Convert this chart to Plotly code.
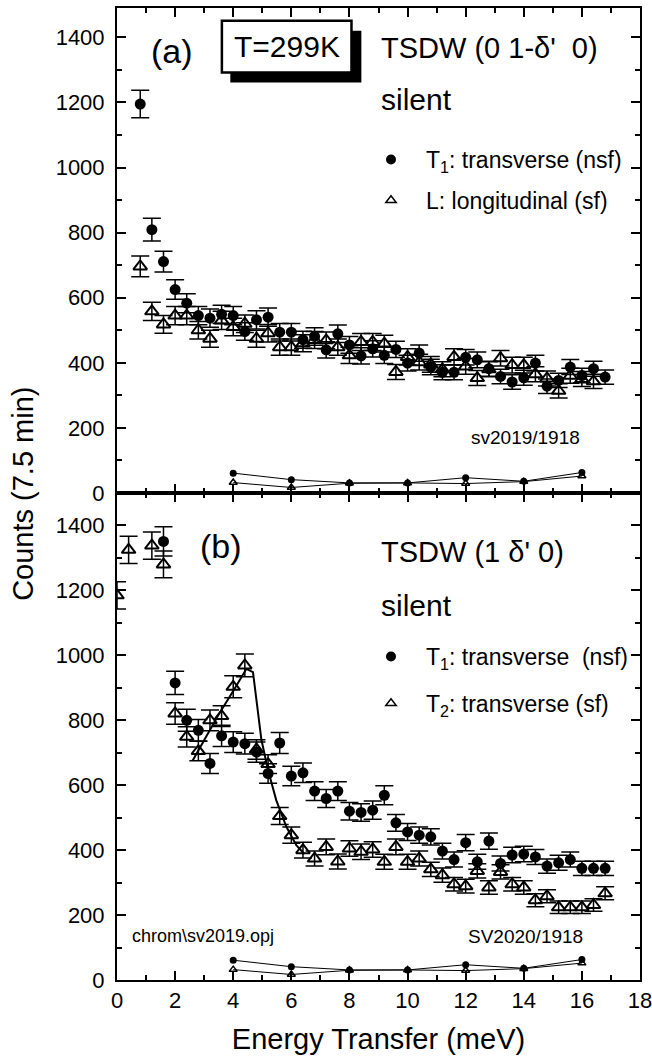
import plotly.graph_objects as go

# ---------------- data ----------------
# Panel (a)  TSDW (0 1-d' 0), T=299K
xa_T1 = [0.8, 1.2, 1.6, 2.0, 2.4, 2.8, 3.2, 3.6, 4.0, 4.4, 4.8, 5.2, 5.6, 6.0, 6.4, 6.8,
         7.2, 7.6, 8.0, 8.4, 8.8, 9.2, 9.6, 10.0, 10.4, 10.8, 11.2, 11.6, 12.0, 12.4,
         12.8, 13.2, 13.6, 14.0, 14.4, 14.8, 15.2, 15.6, 16.0, 16.4, 16.8]
ya_T1 = [1195, 809, 711, 625, 583, 545, 537, 549, 545, 496, 532, 540, 494, 494, 471, 481,
         440, 489, 455, 421, 443, 423, 441, 399, 430, 387, 371, 371, 417, 409,
         382, 358, 341, 354, 399, 328, 346, 387, 361, 382, 356]
ea_T1 = [42, 35, 32, 30, 29, 28, 28, 28, 28, 27, 28, 28, 27, 27, 26, 27,
         25, 27, 26, 25, 25, 25, 25, 24, 25, 24, 23, 23, 24, 24,
         23, 22, 22, 23, 24, 22, 22, 23, 22, 23, 22]

xa_L = [0.8, 1.2, 1.6, 2.0, 2.4, 2.8, 3.2, 3.6, 4.0, 4.4, 4.8, 5.2, 5.6, 6.0, 6.4, 6.8,
        7.2, 7.6, 8.0, 8.4, 8.8, 9.2, 9.6, 10.0, 10.4, 10.8, 11.2, 11.6, 12.0, 12.4,
        12.8, 13.2, 13.6, 14.0, 14.4, 14.8, 15.2, 15.6, 16.0, 16.4]
ya_L = [696, 558, 518, 545, 545, 500, 474, 530, 510, 520, 474, 491, 448, 448, 460, 470,
        469, 448, 423, 464, 464, 459, 372, 418, 402, 395, 380, 418, 389, 353,
        380, 414, 393, 393, 365, 352, 314, 360, 350, 343]
ea_L = [32, 28, 27, 28, 28, 27, 26, 28, 27, 27, 26, 27, 25, 25, 26, 26,
        26, 25, 25, 26, 26, 26, 23, 25, 24, 24, 23, 25, 24, 23,
        23, 24, 24, 24, 23, 23, 22, 23, 23, 22]

# background (same in both panels)
x_bg = [4, 6, 8, 10, 12, 14, 16]
bg_T1 = [61, 41, 31, 31, 47, 36, 63]
bg_sf = [32, 17, 30, 31, 29, 35, 52]

# Panel (b)  TSDW (1 d' 0)
xb_T1 = [1.6, 2.0, 2.4, 2.8, 3.2, 3.6, 4.0, 4.4, 4.8, 5.2, 5.6, 6.0, 6.4, 6.8,
         7.2, 7.6, 8.0, 8.4, 8.8, 9.2, 9.6, 10.0, 10.4, 10.8, 11.2, 11.6, 12.0, 12.4,
         12.8, 13.2, 13.6, 14.0, 14.4, 14.8, 15.2, 15.6, 16.0, 16.4, 16.8]
yb_T1 = [1351, 915, 800, 769, 667, 752, 733, 728, 702, 636, 730, 628, 638, 582,
         559, 582, 520, 516, 523, 569, 484, 456, 446, 441, 397, 371, 423, 364,
         428, 359, 385, 388, 379, 351, 361, 371, 344, 344, 344]
eb_T1 = [45, 36, 34, 33, 31, 33, 32, 32, 31, 30, 32, 30, 30, 29,
         28, 29, 27, 27, 28, 29, 26, 26, 25, 25, 24, 23, 25, 23,
         25, 23, 24, 24, 23, 22, 23, 23, 22, 22, 22]

xb_T2 = [0.0, 0.4, 1.2, 1.6, 2.0, 2.4, 2.8, 3.2, 3.6, 4.0, 4.4, 4.8, 5.2, 5.6, 6.0, 6.4,
         6.8, 7.2, 7.6, 8.0, 8.4, 8.8, 9.2, 9.6, 10.0, 10.4, 10.8, 11.2, 11.6, 12.0,
         12.4, 12.8, 13.2, 13.6, 14.0, 14.4, 14.8, 15.2, 15.6, 16.0, 16.4, 16.8]
yb_T2 = [1185, 1325, 1338, 1280, 821, 749, 705, 800, 813, 903, 969, 710, 665, 505, 446, 400,
         374, 410, 365, 405, 395, 402, 364, 410, 364, 374, 341, 323, 295, 289,
         336, 285, 333, 295, 285, 246, 258, 224, 224, 224, 231, 267]
eb_T2 = [42, 42, 42, 41, 33, 31, 30, 32, 32, 34, 35, 30, 29, 26, 25, 24,
         23, 24, 23, 24, 24, 24, 23, 24, 23, 23, 22, 22, 21, 21,
         22, 21, 22, 21, 21, 20, 20, 19, 19, 19, 19, 20]

# fitted curve through the T2 peak (panel b)
fit_x = [2.6, 3.0, 3.5, 4.0, 4.45, 4.68, 4.8, 4.97, 5.2, 5.48, 5.83, 6.17, 6.45]
fit_y = [675, 738, 818, 890, 958, 948, 860, 740, 646, 554, 472, 415, 388]

y_ticks = [0, 200, 400, 600, 800, 1000, 1200, 1400]
x_ticks = [0, 2, 4, 6, 8, 10, 12, 14, 16, 18]

FONT = "Liberation Sans, Arial, Helvetica, sans-serif"
BLK = "black"

fig = go.Figure()

def err(arr):
    return dict(type="data", array=arr, visible=True, color=BLK, thickness=1.5, width=9)

TRI = dict(symbol="triangle-up-open", size=12, color=BLK, line=dict(width=2, color=BLK))
CIR = dict(symbol="circle", size=11, color=BLK)
TRI_LEG = dict(symbol="triangle-up-open", size=9, color=BLK, line=dict(width=1.5, color=BLK))
CIR_LEG = dict(symbol="circle", size=10, color=BLK)

# ---- panel (a) ----
fig.add_trace(go.Scatter(x=xa_L, y=ya_L, mode="markers", error_y=err(ea_L), marker=TRI,
                         showlegend=False, xaxis="x", yaxis="y"))
fig.add_trace(go.Scatter(x=xa_T1, y=ya_T1, mode="markers", error_y=err(ea_T1), marker=CIR,
                         showlegend=False, xaxis="x", yaxis="y"))
fig.add_trace(go.Scatter(x=x_bg, y=bg_T1, mode="lines+markers", showlegend=False,
                         line=dict(color=BLK, width=1), marker=dict(symbol="circle", size=7, color=BLK),
                         xaxis="x", yaxis="y"))
fig.add_trace(go.Scatter(x=x_bg, y=bg_sf, mode="lines+markers", showlegend=False,
                         line=dict(color=BLK, width=1),
                         marker=dict(symbol="triangle-up-open", size=7, color=BLK, line=dict(width=1.5, color=BLK)),
                         xaxis="x", yaxis="y"))
# legend entries (a)
fig.add_trace(go.Scatter(x=[None], y=[None], mode="markers", marker=CIR_LEG,
                         name="T<sub>1</sub>: transverse (nsf)", legend="legend", legendgroup="aT",
                         xaxis="x", yaxis="y"))
fig.add_trace(go.Scatter(x=[None], y=[None], mode="markers", marker=TRI_LEG,
                         name="L: longitudinal (sf)", legend="legend", legendgroup="aL",
                         xaxis="x", yaxis="y"))

# ---- panel (b) ----
fig.add_trace(go.Scatter(x=fit_x, y=fit_y, mode="lines", showlegend=False,
                         line=dict(color=BLK, width=2), xaxis="x2", yaxis="y2"))
fig.add_trace(go.Scatter(x=xb_T2, y=yb_T2, mode="markers", error_y=err(eb_T2), marker=TRI,
                         showlegend=False, xaxis="x2", yaxis="y2"))
fig.add_trace(go.Scatter(x=xb_T1, y=yb_T1, mode="markers", error_y=err(eb_T1), marker=CIR,
                         showlegend=False, xaxis="x2", yaxis="y2"))
fig.add_trace(go.Scatter(x=x_bg, y=bg_T1, mode="lines+markers", showlegend=False,
                         line=dict(color=BLK, width=1), marker=dict(symbol="circle", size=7, color=BLK),
                         xaxis="x2", yaxis="y2"))
fig.add_trace(go.Scatter(x=x_bg, y=bg_sf, mode="lines+markers", showlegend=False,
                         line=dict(color=BLK, width=1),
                         marker=dict(symbol="triangle-up-open", size=7, color=BLK, line=dict(width=1.5, color=BLK)),
                         xaxis="x2", yaxis="y2"))
# legend entries (b)
fig.add_trace(go.Scatter(x=[None], y=[None], mode="markers", marker=CIR_LEG,
                         name="T<sub>1</sub>: transverse\u00a0 (nsf)", legend="legend2", legendgroup="bT1",
                         xaxis="x2", yaxis="y2"))
fig.add_trace(go.Scatter(x=[None], y=[None], mode="markers", marker=TRI_LEG,
                         name="T<sub>2</sub>: transverse (sf)", legend="legend2", legendgroup="bT2",
                         xaxis="x2", yaxis="y2"))

W, H = 652, 1063
ML, MR, MT, MB = 117, 12, 8, 83
PH = H - MT - MB
PW = W - ML - MR
split = (980 - 493) / PH

tickfont = dict(family=FONT, size=22, color=BLK)
xcommon = dict(range=[0, 18], tickvals=x_ticks, ticks="inside", ticklen=9, tickwidth=2,
               minor=dict(dtick=1, tick0=0, ticks="inside", ticklen=5, tickwidth=2, tickcolor=BLK),
               showline=True, linewidth=2, linecolor=BLK, mirror="allticks",
               showgrid=False, zeroline=False, tickcolor=BLK, tickfont=tickfont,
               ticklabeloverflow="allow", automargin=False)
ycommon = dict(tickvals=y_ticks, ticks="inside", ticklen=9, tickwidth=2,
               minor=dict(dtick=100, tick0=0, ticks="inside", ticklen=5, tickwidth=2, tickcolor=BLK),
               showline=True, linewidth=2, linecolor=BLK, mirror="allticks",
               showgrid=False, zeroline=False, tickcolor=BLK, tickfont=tickfont,
               ticklabelstandoff=6, automargin=False)

legcommon = dict(xanchor="left", yanchor="top", bgcolor="rgba(0,0,0,0)",
                 font=dict(family=FONT, size=23, color=BLK),
                 traceorder="grouped", itemsizing="trace", itemwidth=60)

fig.update_layout(
    width=W, height=H,
    margin=dict(l=ML, r=MR, t=MT, b=MB, autoexpand=False),
    paper_bgcolor="white", plot_bgcolor="white",
    font=dict(family=FONT, color=BLK),
    xaxis=dict(domain=[0, 1], anchor="y", showticklabels=False, **xcommon),
    yaxis=dict(domain=[split, 1], anchor="x", range=[0, 1490], **ycommon),
    xaxis2=dict(domain=[0, 1], anchor="y2", showticklabels=True,
                title=dict(text="Energy Transfer (meV)", font=dict(family=FONT, size=29, color=BLK), standoff=16),
                **xcommon),
    yaxis2=dict(domain=[0, split], anchor="x2", range=[0, 1500], **ycommon),
    legend=dict(x=(356 - ML) / PW, y=(980 - 138) / PH, tracegroupgap=8, **legcommon),
    legend2=dict(x=(356 - ML) / PW, y=(980 - 635) / PH, tracegroupgap=14, **legcommon),
)

# y title
fig.add_annotation(text="Counts (7.5 min)", xref="paper", yref="paper", x=-0.18, y=0.5,
                   xanchor="center", yanchor="middle", textangle=-90, showarrow=False,
                   font=dict(family=FONT, size=29, color=BLK))

# box with shadow for T=299K
fig.add_shape(type="rect", xref="x", yref="y", x0=3.9, x1=8.41, y0=1261, y1=1420,
              fillcolor=BLK, line=dict(width=0))
fig.add_shape(type="rect", xref="x", yref="y", x0=3.61, x1=8.07, y0=1292, y1=1451,
              fillcolor="white", line=dict(width=2.5, color=BLK))

def txt(t, x, y, size, xr="x", yr="y", anchor="left"):
    fig.add_annotation(text=t, x=x, y=y, xref=xr, yref=yr, xanchor=anchor, yanchor="middle",
                       showarrow=False, font=dict(family=FONT, size=size, color=BLK))

txt("T=299K", 5.84, 1371, 30, anchor="center")
txt("(a)", 1.1, 1359, 34)
txt("TSDW (0 1-δ'\u00a0 0)", 9.0, 1368, 29)
txt("silent", 9.0, 1210, 30)
txt("sv2019/1918", 12.1, 171, 19)

txt("(b)", 2.8, 1338, 34, xr="x2", yr="y2")
txt("TSDW (1 δ' 0)", 9.0, 1317, 29, xr="x2", yr="y2")
txt("silent", 9.0, 1154, 30, xr="x2", yr="y2")
txt("chrom\\sv2019.opj", 0.45, 135, 18, xr="x2", yr="y2")
txt("SV2020/1918", 12.0, 135, 19, xr="x2", yr="y2")

fig.write_html("out.html")
